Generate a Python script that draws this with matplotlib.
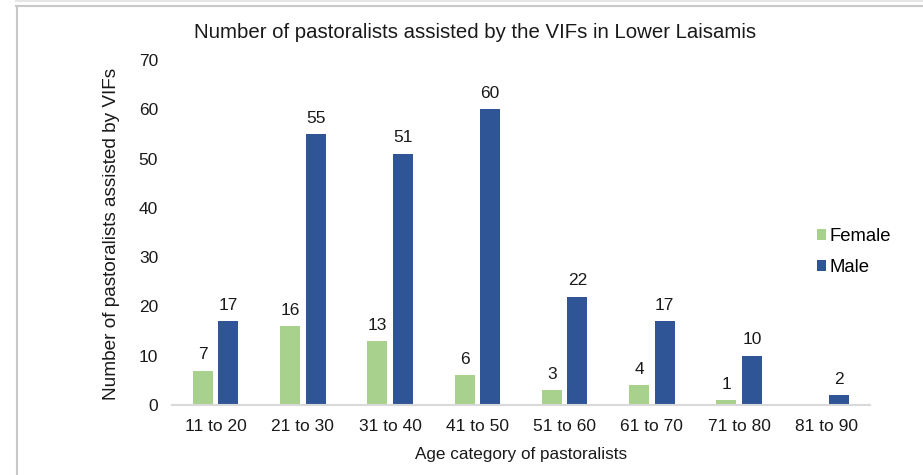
import matplotlib
matplotlib.use("Agg")
import matplotlib.pyplot as plt
from matplotlib.lines import Line2D
import numpy as np

categories = ["11 to 20", "21 to 30", "31 to 40", "41 to 50", "51 to 60", "61 to 70", "71 to 80", "81 to 90"]
female = [7, 16, 13, 6, 3, 4, 1, 0]
male = [17, 55, 51, 60, 22, 17, 10, 2]
yticks = [0, 10, 20, 30, 40, 50, 60, 70]

plt.rcParams['font.family'] = ['Liberation Sans', 'DejaVu Sans']

W, H = 923, 475
fig = plt.figure(figsize=(W/100, H/100), dpi=100)
ax = fig.add_axes([172/W, 1-405/H, 698/W, 345/H])

x = np.arange(len(categories))
bw = 0.23
off = 0.146
fem_c = "#A9D18E"
male_c = "#2F5597"
txt_c = "#1a1a1a"
ax.bar(x - off, female, bw, color=fem_c, label="Female")
ax.bar(x + off, male, bw, color=male_c, label="Male")

for xi, v in zip(x, female):
    if v > 0:
        ax.annotate(str(v), (xi - off, v), xytext=(0, 6), textcoords="offset points",
                    ha="center", va="bottom", fontsize=12.5, color=txt_c)
for xi, v in zip(x, male):
    ax.annotate(str(v), (xi + off, v), xytext=(0, 6), textcoords="offset points",
                ha="center", va="bottom", fontsize=12.5, color=txt_c)

ax.set_xlim(-0.5, len(categories) - 0.5)
ax.set_ylim(0, 70)
ax.set_yticks(yticks)
ax.set_xticks(x)
ax.set_xticklabels(categories)
ax.tick_params(axis="both", length=0, labelsize=12.5, colors=txt_c)
ax.tick_params(axis="y", pad=10)
ax.tick_params(axis="x", pad=10)
for s in ["top", "right", "left"]:
    ax.spines[s].set_visible(False)
ax.spines["bottom"].set_color("#D9D9D9")
ax.spines["bottom"].set_linewidth(1.5)

ax.set_xlabel("Age category of pastoralists", fontsize=12.3, color=txt_c)
ax.xaxis.set_label_coords(521/W, 1-455/H, transform=fig.transFigure)
ax.xaxis.label.set_va("center")
ax.set_ylabel("Number of pastoralists assisted by VIFs", fontsize=13.7, color=txt_c)
ax.yaxis.set_label_coords(112/W, 1-234/H, transform=fig.transFigure)
ax.yaxis.label.set_va("center")

fig.text(475/W, 1-33/H, "Number of pastoralists assisted by the VIFs in Lower Laisamis",
         ha="center", va="center", fontsize=14.7, color=txt_c)

ax.legend(loc="upper left", bbox_to_anchor=(817/W, 1-228/H), bbox_transform=fig.transFigure,
          frameon=False, fontsize=13.3, handlelength=0.5, handleheight=0.5,
          handletextpad=0.15, labelspacing=0.75, borderaxespad=0, borderpad=0)

# outer frame decoration
fig.add_artist(Line2D([16/W, 1], [1-0.5/H, 1-0.5/H], color="#E6E6E6", lw=1.5, transform=fig.transFigure))
fig.add_artist(Line2D([16/W, 1], [1-5.5/H, 1-5.5/H], color="#C8C8C8", lw=1.5, transform=fig.transFigure))
fig.add_artist(Line2D([16.5/W, 16.5/W], [0, 1-5.5/H], color="#C8C8C8", lw=1.5, transform=fig.transFigure))

fig.savefig("out.png", dpi=100)
